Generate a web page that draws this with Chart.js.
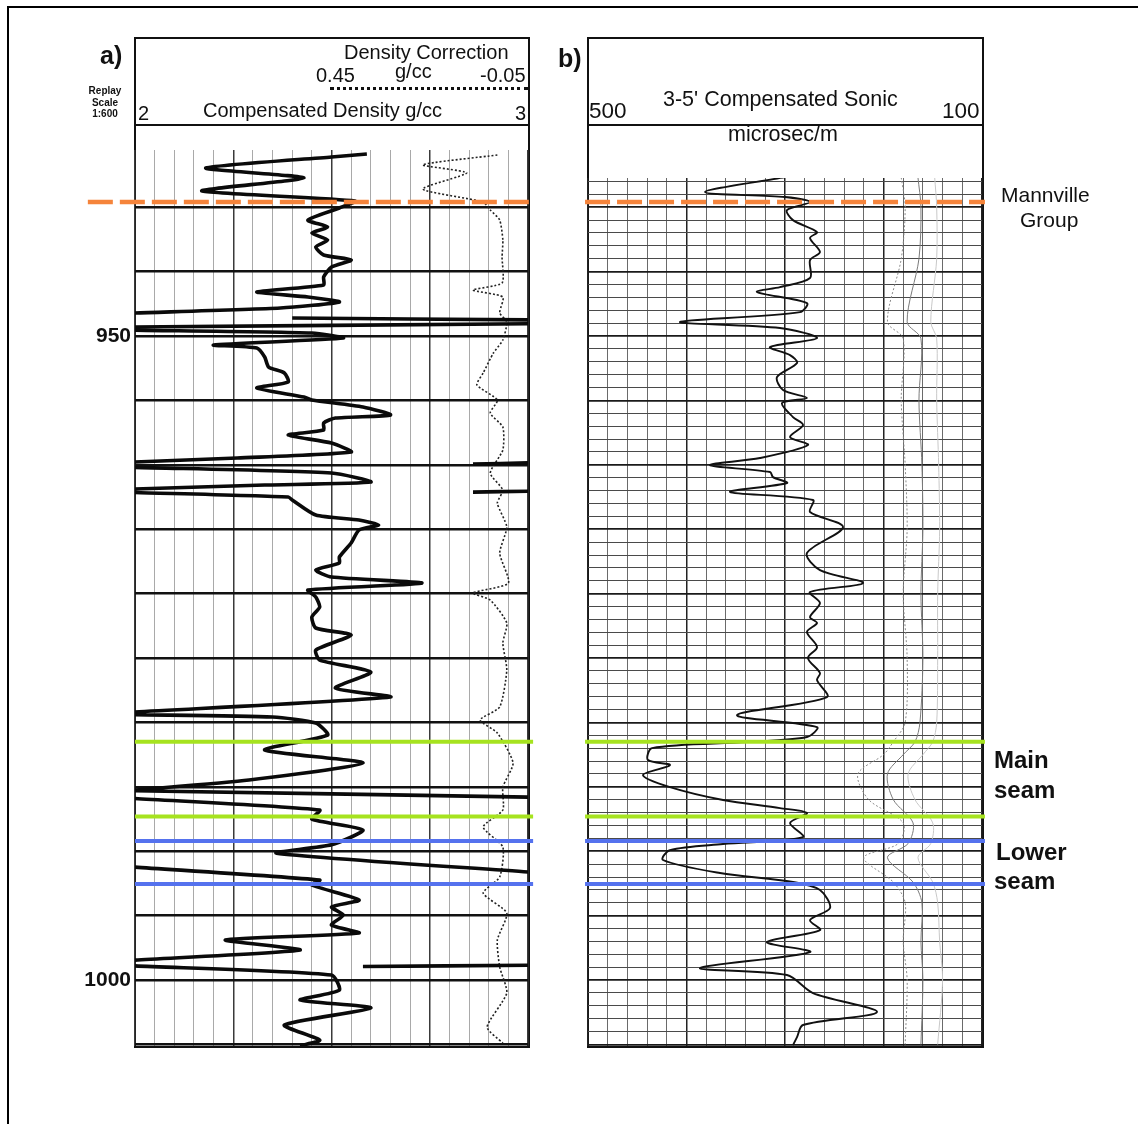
<!DOCTYPE html>
<html>
<head>
<meta charset="utf-8">
<title>Density and sonic logs</title>
<script src="https://cdn.jsdelivr.net/npm/chart.js@4.4.1/dist/chart.umd.min.js"></script>
<style>
  body { margin: 0; background: #fff; font-family: 'Liberation Sans', Arial, sans-serif; }
  #page { position: relative; width: 1138px; height: 1124px; overflow: hidden; background: #fff; }
  .frame { position: absolute; left: 7px; top: 6px; right: -4px; bottom: -4px; border-top: 2px solid #000; border-left: 2px solid #000; }
  .box { position: absolute; border: 2.5px solid #111; box-sizing: border-box; }
  .rule { position: absolute; height: 0; border-top: 2.5px solid #111; }
  .dots { position: absolute; height: 0; border-top: 3px dotted #111; }
  .t { position: absolute; white-space: nowrap; line-height: 1; color: #111; }
  .b { font-weight: bold; }
  canvas { position: absolute; top: 0; }
  #chart-a { left: 0; }
  #chart-b { left: 560px; }
</style>
</head>
<body>
<div id="page">
  <div class="frame"></div>

  <div class="box" style="left:134px; top:37px; width:396px; height:1011px;"></div>
  <div class="rule" style="left:134px; top:124px; width:396px;"></div>
  <div class="dots" style="left:330px; top:87px; width:198px;"></div>

  <div class="box" style="left:587px; top:37px; width:397px; height:1011px;"></div>
  <div class="rule" style="left:587px; top:124px; width:397px;"></div>

  <canvas id="chart-a" width="560" height="1124"></canvas>
  <canvas id="chart-b" width="578" height="1124"></canvas>

  <!-- panel a header -->
  <div class="t b" style="left:100px; top:43px; font-size:25px;">a)</div>
  <div class="t b" style="left:80px; top:85px; width:50px; text-align:center; font-size:10px; line-height:11.5px;">Replay<br>Scale<br>1:600</div>
  <div class="t" style="left:344px; top:42px; font-size:20px;">Density Correction</div>
  <div class="t" style="left:316px; top:65px; font-size:20px;">0.45</div>
  <div class="t" style="left:395px; top:61px; font-size:20px;">g/cc</div>
  <div class="t" style="left:480px; top:65px; font-size:20px;">-0.05</div>
  <div class="t" style="left:138px; top:103px; font-size:20px;">2</div>
  <div class="t" style="left:203px; top:100px; font-size:20px;">Compensated Density g/cc</div>
  <div class="t" style="left:515px; top:103px; font-size:20px;">3</div>

  <!-- panel b header -->
  <div class="t b" style="left:558px; top:46px; font-size:25px;">b)</div>
  <div class="t" style="left:663px; top:89px; font-size:21.5px;">3-5' Compensated Sonic</div>
  <div class="t" style="left:589px; top:100px; font-size:22.5px;">500</div>
  <div class="t" style="left:942px; top:100px; font-size:22.5px;">100</div>
  <div class="t" style="left:728px; top:124px; font-size:21.5px;">microsec/m</div>

  <!-- horizon names -->
  <div class="t" style="left:1001px; top:184px; font-size:21px;">Mannville</div>
  <div class="t" style="left:1020px; top:209px; font-size:21px;">Group</div>
  <div class="t b" style="left:994px; top:748px; font-size:24px;">Main</div>
  <div class="t b" style="left:994px; top:778px; font-size:24px;">seam</div>
  <div class="t b" style="left:996px; top:840px; font-size:24px;">Lower</div>
  <div class="t b" style="left:994px; top:869px; font-size:24px;">seam</div>
</div>

<script>
// @@@@@@@@@@@@@@@@@@@@@@@@@@@@@@@@@@@@@@@@@@@@@@
// @@@@@@@@             DATA             @@@@@@@@
// @@@@@@@@@@@@@@@@@@@@@@@@@@@@@@@@@@@@@@@@@@@@@@
// depths in m, null value = pen lifts (log wraps off scale)
const depthLabels = [950, 1000];

const densityDepth = [
  935.87, 936.10, 936.96, 937.73, 938.74, 939.52, 940.06, 941.00, 941.54, 942.00,
  942.55, 943.09, 943.71, 944.10, 944.64, 945.42, 946.04, 946.58, 946.97, 947.36,
  947.83, 948.21, 948.30, 948.60, 948.75, 948.80, 949.05, 949.30, 949.40, 949.55,
  949.77, 950.16, 950.70, 950.93, 951.63, 952.41, 952.87, 953.57, 954.04, 954.74,
  954.97, 955.51, 956.13, 956.37, 956.75, 957.30, 957.69, 958.31, 959.01, 959.47,
  959.78, 959.80, 959.85, 959.95, 960.00, 960.20, 960.64, 961.34, 961.57, 961.88,
  961.95, 962.05, 962.12, 962.14, 962.15, 962.50, 962.73, 963.90, 964.29, 964.67,
  965.06, 966.07, 967.16, 967.62, 968.17, 968.71, 969.18, 969.72, 970.26, 971.04,
  971.82, 972.67, 973.21, 974.38, 975.16, 976.09, 977.33, 978.03, 979.19, 979.30,
  979.40, 979.58, 980.05, 980.98, 982.14, 983.15, 984.47, 985.25, 985.27, 985.30,
  985.80, 985.85, 985.90, 986.80, 987.50, 988.35, 989.50, 990.15, 991.61, 991.65,
  991.23, 992.24, 992.62, 993.79, 994.33, 994.95, 995.73, 996.35, 996.89, 997.67,
  998.45, 998.50, 998.85, 998.95, 999.00, 998.90, 999.61, 1000.78, 1001.55, 1002.17,
  1003.49, 1004.66, 1005.10
];
const densityValue = [
  2.59, 2.50, 2.18, 2.43, 2.17, 2.56, 2.52, 2.44, 2.49, 2.45,
  2.49, 2.46, 2.48, 2.55, 2.50, 2.48, 2.48, 2.31, 2.44, 2.52,
  2.37, 2.00, null, 2.40, 3.00, null, 3.00, 2.00, null, 2.00,
  2.45, 2.53, 2.20, 2.31, 2.33, 2.34, 2.38, 2.39, 2.31, 2.43,
  2.45, 2.58, 2.65, 2.51, 2.48, 2.48, 2.39, 2.50, 2.55, 2.26,
  2.00, null, 3.00, 2.86, null, 2.00, 2.50, 2.60, 2.33, 2.00,
  null, 3.00, 2.86, null, 2.00, 2.39, 2.40, 2.46, 2.57, 2.62,
  2.57, 2.55, 2.52, 2.52, 2.46, 2.50, 2.73, 2.44, 2.46, 2.47,
  2.45, 2.46, 2.55, 2.46, 2.47, 2.60, 2.51, 2.65, 2.00, null,
  2.00, 2.35, 2.46, 2.49, 2.33, 2.58, 2.29, 2.00, null, 2.00,
  3.00, null, 2.00, 2.47, 2.45, 2.58, 2.50, 2.36, 3.00, null,
  2.00, 2.47, 2.45, 2.57, 2.50, 2.53, 2.50, 2.57, 2.23, 2.42,
  2.00, null, 3.00, 2.58, null, 2.00, 2.50, 2.52, 2.42, 2.60,
  2.38, 2.47, 2.42
];

const correctionDepth = [
  935.95, 936.71, 937.34, 938.59, 939.60, 940.22, 941.00, 942.55, 943.87, 945.88,
  946.43, 946.97, 948.21, 948.91, 950.31, 951.32, 952.87, 953.80, 954.97, 955.98,
  957.07, 958.85, 960.64, 961.96, 962.97, 964.83, 966.85, 969.18, 969.95, 970.50,
  972.28, 973.84, 975.93, 978.80, 979.81, 980.82, 983.15, 985.02, 986.80, 988.12,
  989.67, 992.00, 993.25, 994.80, 996.89, 998.99, 1001.01, 1003.65, 1004.89
];
const correctionValue = [
  -0.011, 0.084, 0.028, 0.084, 0.007, -0.002, -0.014, -0.018, -0.017, -0.017,
  0.020, -0.018, -0.014, -0.023, -0.018, -0.006, 0.007, 0.015, -0.011, -0.002,
  -0.018, -0.018, -0.002, -0.018, -0.011, -0.023, -0.014, -0.025, 0.020, -0.002,
  -0.023, -0.018, -0.023, -0.014, 0.011, -0.011, -0.031, -0.018, -0.018, 0.007,
  -0.018, -0.014, 0.007, -0.023, -0.011, -0.014, -0.023, 0.002, -0.018
];

const sonicDepth = [
  937.66, 938.82, 939.21, 939.60, 940.22, 941.00, 941.93, 942.39, 943.48, 944.10,
  945.50, 946.20, 946.58, 947.44, 948.14, 948.91, 949.38, 950.16, 950.85, 951.48,
  952.10, 953.18, 954.19, 954.81, 955.20, 956.29, 956.91, 957.84, 958.46, 959.47,
  960.02, 960.56, 960.95, 961.41, 962.11, 962.73, 963.66, 964.83, 966.85, 968.17,
  969.18, 969.88, 970.73, 971.82, 972.28, 972.98, 974.15, 975.00, 976.16, 976.71,
  978.03, 979.43, 980.36, 981.13, 981.52, 981.99, 982.92, 983.31, 984.08, 985.02,
  986.02, 986.65, 987.03, 987.81, 988.90, 989.44, 989.91, 990.68, 991.69, 992.39,
  993.01, 994.41, 995.34, 996.12, 997.05, 997.83, 999.07, 999.61, 1001.01, 1002.48,
  1003.49, 1004.43, 1005.05
];
const sonicValue = [
  300.0, 381.2, 300.0, 274.6, 298.0, 291.9, 267.5, 274.6, 264.5, 274.6,
  274.6, 305.1, 328.4, 277.7, 284.8, 406.6, 305.1, 267.5, 315.2, 294.9,
  287.8, 308.1, 302.0, 277.7, 303.0, 291.9, 281.7, 294.9, 276.7, 325.4,
  376.1, 315.2, 312.2, 298.0, 355.8, 271.6, 274.6, 241.1, 277.7, 264.5,
  220.8, 274.6, 264.5, 274.6, 267.5, 277.7, 267.5, 276.7, 264.5, 267.5,
  257.4, 348.7, 267.5, 277.7, 338.6, 435.0, 439.1, 416.8, 444.2, 416.8,
  362.9, 305.1, 277.7, 294.9, 281.7, 362.9, 416.8, 423.9, 366.0, 291.9,
  264.5, 254.3, 274.6, 264.5, 318.3, 274.6, 386.3, 298.0, 271.6, 206.6,
  281.7, 287.8, 291.9
];

// faint transit-time traces on the right of track b
const traceDepth = [
  937.7, 940.0, 944.0, 948.9, 950.2, 955.0, 960.0, 965.0, 970.0, 975.0, 980.0, 981.5,
  982.5, 984.0, 986.0, 987.8, 989.4, 990.5, 992.4, 994.0, 997.0, 1000.0, 1005.0
];
const traceA = [182, 178, 182, 196, 180, 182, 178, 176, 180, 176, 178, 190, 200, 226, 215, 180, 185, 220, 190, 178, 180, 176, 178];
const traceB = [165, 162, 164, 176, 162, 164, 161, 160, 162, 160, 163, 168, 180, 196, 190, 170, 175, 196, 170, 161, 162, 160, 162];
const traceC = [148, 146, 146, 152, 146, 146, 144, 143, 145, 145, 146, 150, 160, 175, 168, 150, 152, 165, 150, 145, 143, 140, 145];

const horizonNames = ['Mannville Group', 'Main seam top', 'Main seam base', 'Lower seam top', 'Lower seam base'];
const horizonDepths = [939.6, 981.5, 987.3, 989.2, 992.55];

// @@@@@@@@@@@@@@@@@@@@@@@@@@@@@@@@@@@@@@@@@@@@@@
// @@@@@@@@           HELPERS            @@@@@@@@
// @@@@@@@@@@@@@@@@@@@@@@@@@@@@@@@@@@@@@@@@@@@@@@
const horizonColors = ['#f5843b', '#a6e31f', '#a6e31f', '#5572ee', '#5572ee'];

Chart.defaults.font.family = "'Liberation Sans', Arial, sans-serif";

const toPoints = (depths, values) => depths.map((d, i) => ({ x: values[i], y: d }));

const gridTicks = (from, to, step) => {
  const out = [];
  for (let v = from; v <= to + step / 1000; v += step) {
    out.push({ value: Math.round(v * 1000) / 1000 });
  }
  return out;
};

const onStep = (v, step) => Math.abs(v / step - Math.round(v / step)) < 1e-6;

function horizonSets(firstFrom, from, to) {
  return horizonDepths.map((d, i) => ({
    label: horizonNames[i],
    data: [{ x: i === 0 ? firstFrom : from, y: d }, { x: to, y: d }],
    borderColor: horizonColors[i],
    borderWidth: i === 0 ? 4.5 : 4,
    borderDash: i === 0 ? [25, 7] : [],
    borderCapStyle: 'butt',
    showLine: true,
    pointRadius: 0,
    clip: false,
    order: 0,
  }));
}

const baseOptions = {
  responsive: false,
  animation: false,
  devicePixelRatio: 1,
  events: [],
  plugins: { legend: { display: false }, tooltip: { enabled: false } },
};

// @@@@@@@@@@@@@@@@@@@@@@@@@@@@@@@@@@@@@@@@@@@@@@
// @@@@@@@@      a) DENSITY TRACK        @@@@@@@@
// @@@@@@@@@@@@@@@@@@@@@@@@@@@@@@@@@@@@@@@@@@@@@@
new Chart(document.getElementById('chart-a'), {
  type: 'scatter',
  data: {
    datasets: [
      ...horizonSets(1.88, 2.0, 3.013),
      {
        label: 'Compensated Density',
        data: toPoints(densityDepth, densityValue),
        borderColor: '#0a0a0a',
        borderWidth: 3.6,
        showLine: true,
        pointRadius: 0,
        tension: 0.2,
        order: 1,
      },
      {
        label: 'Density Correction',
        data: toPoints(correctionDepth, correctionValue),
        xAxisID: 'xc',
        borderColor: '#222',
        borderWidth: 1.6,
        borderDash: [2, 2],
        showLine: true,
        pointRadius: 0,
        tension: 0.2,
        order: 2,
      },
    ],
  },
  options: {
    ...baseOptions,
    layout: { padding: { left: 70, right: 32, top: 150, bottom: 78 } },
    scales: {
      x: {
        type: 'linear',
        position: 'top',
        min: 2,
        max: 3,
        afterBuildTicks: (s) => { s.ticks = gridTicks(2, 3, 0.05); },
        ticks: { display: false },
        border: { display: false },
        grid: {
          drawTicks: false,
          color: (ctx) => onStep(ctx.tick.value, 0.25) ? '#3a3a3a' : '#a9a9a9',
          lineWidth: (ctx) => onStep(ctx.tick.value, 0.25) ? 1.5 : 1,
        },
      },
      xc: { type: 'linear', display: false, min: -0.05, max: 0.45, reverse: true },
      y: {
        type: 'linear',
        position: 'left',
        reverse: true,
        min: 935.56,
        max: 1005.12,
        afterBuildTicks: (s) => { s.ticks = gridTicks(940, 1005, 5); },
        afterFit: (s) => { s.width = 65; },
        border: { display: false },
        grid: { drawTicks: false, color: '#111', lineWidth: 2.6 },
        ticks: {
          autoSkip: false,
          padding: 4,
          color: '#111',
          font: { size: 21, weight: 'bold' },
          callback: (v) => depthLabels.includes(v) ? String(v) : '',
        },
      },
    },
  },
});

// @@@@@@@@@@@@@@@@@@@@@@@@@@@@@@@@@@@@@@@@@@@@@@
// @@@@@@@@       b) SONIC TRACK         @@@@@@@@
// @@@@@@@@@@@@@@@@@@@@@@@@@@@@@@@@@@@@@@@@@@@@@@
const faint = (label, values, color, dash) => ({
  label,
  data: toPoints(traceDepth, values),
  borderColor: color,
  borderWidth: 1,
  borderDash: dash,
  showLine: true,
  pointRadius: 0,
  tension: 0.3,
  order: 3,
});

new Chart(document.getElementById('chart-b'), {
  type: 'scatter',
  data: {
    datasets: [
      ...horizonSets(503, 503, 97),
      {
        label: '3-5\' Compensated Sonic',
        data: toPoints(sonicDepth, sonicValue),
        borderColor: '#111',
        borderWidth: 1.9,
        showLine: true,
        pointRadius: 0,
        tension: 0.3,
        order: 1,
      },
      faint('Transit time 1', traceA, '#8a8a8a', [2, 2]),
      faint('Transit time 2', traceB, '#7a7a7a', []),
      faint('Transit time 3', traceC, '#c8c8c8', []),
    ],
  },
  options: {
    ...baseOptions,
    layout: { padding: { left: 28, right: 156, top: 178, bottom: 78 } },
    scales: {
      x: {
        type: 'linear',
        position: 'top',
        reverse: true,
        min: 100,
        max: 500,
        afterBuildTicks: (s) => { s.ticks = gridTicks(100, 500, 20); },
        ticks: { display: false },
        border: { display: false },
        grid: {
          drawTicks: false,
          color: (ctx) => onStep(ctx.tick.value, 100) ? '#222' : '#6a6a6a',
          lineWidth: (ctx) => onStep(ctx.tick.value, 100) ? 1.5 : 1,
        },
      },
      y: {
        type: 'linear',
        reverse: true,
        min: 937.73,
        max: 1005.12,
        afterBuildTicks: (s) => { s.ticks = gridTicks(938, 1005, 1); },
        ticks: { display: false },
        border: { display: false },
        grid: {
          drawTicks: false,
          color: (ctx) => onStep(ctx.tick.value, 5) ? '#1a1a1a' : '#4a4a4a',
          lineWidth: (ctx) => onStep(ctx.tick.value, 5) ? 1.7 : 1,
        },
      },
    },
  },
});
</script>
</body>
</html>
